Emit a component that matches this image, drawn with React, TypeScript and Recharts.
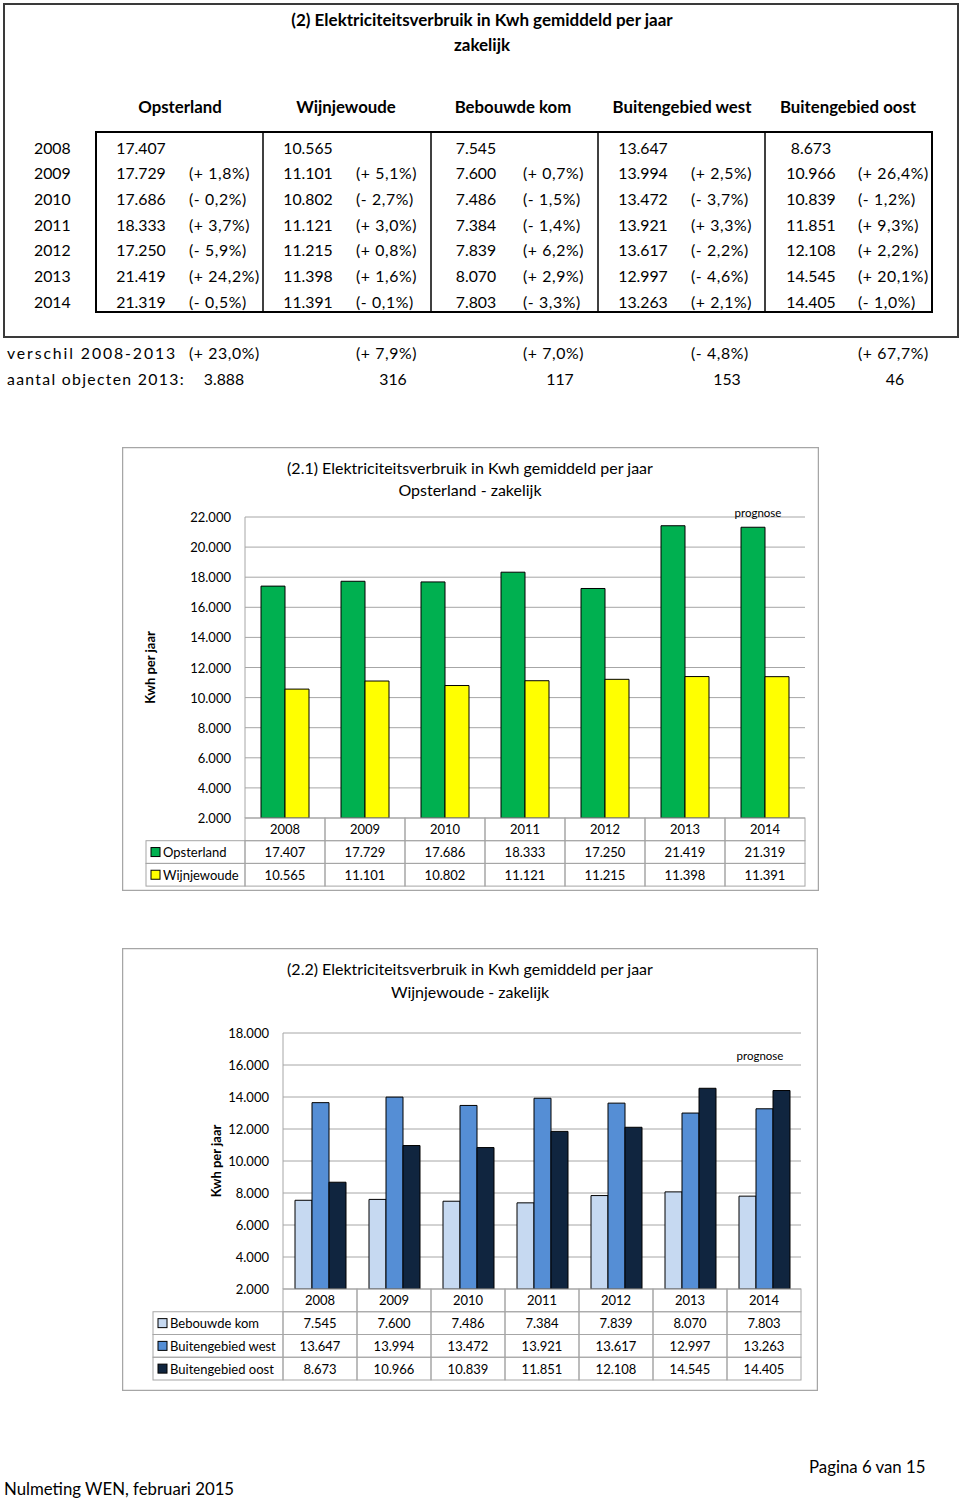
import React from 'react';
import { BarChart, Bar, XAxis, YAxis, CartesianGrid } from 'recharts';

const FONT = 'Lato, "Open Sans", sans-serif';

const years = ['2008', '2009', '2010', '2011', '2012', '2013', '2014'];
const regions = ['Opsterland', 'Wijnjewoude', 'Bebouwde kom', 'Buitengebied west', 'Buitengebied oost'];

const opsterland = [17407, 17729, 17686, 18333, 17250, 21419, 21319];
const wijnjewoude = [10565, 11101, 10802, 11121, 11215, 11398, 11391];
const bebouwdeKom = [7545, 7600, 7486, 7384, 7839, 8070, 7803];
const buitenWest = [13647, 13994, 13472, 13921, 13617, 12997, 13263];
const buitenOost = [8673, 10966, 10839, 11851, 12108, 14545, 14405];

const opsterlandChange = ['', '(+ 1,8%)', '(- 0,2%)', '(+ 3,7%)', '(- 5,9%)', '(+ 24,2%)', '(- 0,5%)'];
const wijnjewoudeChange = ['', '(+ 5,1%)', '(- 2,7%)', '(+ 3,0%)', '(+ 0,8%)', '(+ 1,6%)', '(- 0,1%)'];
const bebouwdeKomChange = ['', '(+ 0,7%)', '(- 1,5%)', '(- 1,4%)', '(+ 6,2%)', '(+ 2,9%)', '(- 3,3%)'];
const buitenWestChange = ['', '(+ 2,5%)', '(- 3,7%)', '(+ 3,3%)', '(- 2,2%)', '(- 4,6%)', '(+ 2,1%)'];
const buitenOostChange = ['', '(+ 26,4%)', '(- 1,2%)', '(+ 9,3%)', '(+ 2,2%)', '(+ 20,1%)', '(- 1,0%)'];

const verschil = ['(+ 23,0%)', '(+ 7,9%)', '(+ 7,0%)', '(- 4,8%)', '(+ 67,7%)'];
const aantalObjecten = ['3.888', '316', '117', '153', '46'];

const ticks1 = [2000, 4000, 6000, 8000, 10000, 12000, 14000, 16000, 18000, 20000, 22000];
const ticks2 = [2000, 4000, 6000, 8000, 10000, 12000, 14000, 16000, 18000];

const fmt = (v: number) => {
  const t = Math.floor(v / 1000);
  const r = v % 1000;
  return t > 0 ? `${t}.${String(r).padStart(3, '0')}` : String(r);
};

const allValues = [opsterland, wijnjewoude, bebouwdeKom, buitenWest, buitenOost];
const allChanges = [opsterlandChange, wijnjewoudeChange, bebouwdeKomChange, buitenWestChange, buitenOostChange];

function TopTable() {
  const headerX = [180, 346, 513, 682, 848];
  const valueX = [141, 308, 476, 643, 811];
  const pctX = [189, 356, 523, 691, 858];
  const rowY = [147, 172.5, 198, 224, 249.5, 275, 301];
  const vLines = [263, 431, 598, 765];
  const aantalX = [224, 393, 560, 727, 895];
  return (
    <svg width={960} height={400} style={{ position: 'absolute', left: 0, top: 0 }} fontFamily={FONT}>
      <rect x={4} y={4} width={954} height={333} fill="none" stroke="#3a3a3a" strokeWidth={2} />
      <text x={482} y={19} textAnchor="middle" dominantBaseline="central" fontSize={17} fontWeight="bold" fill="#000">
        (2) Elektriciteitsverbruik in Kwh gemiddeld per jaar
      </text>
      <text x={482} y={44} textAnchor="middle" dominantBaseline="central" fontSize={17} fontWeight="bold" fill="#000">
        zakelijk
      </text>
      {regions.map((r, i) => (
        <text key={r} x={headerX[i]} y={106} textAnchor="middle" dominantBaseline="central" fontSize={16.8} fontWeight="bold" fill="#000">
          {r}
        </text>
      ))}
      <rect x={96} y={132} width={836} height={180} fill="none" stroke="#000" strokeWidth={2} />
      {vLines.map((x) => (
        <line key={x} x1={x} x2={x} y1={132} y2={312} stroke="#000" strokeWidth={1.5} />
      ))}
      {years.map((y, ri) => (
        <g key={y}>
          <text x={34} y={rowY[ri]} dominantBaseline="central" fontSize={15.8} fill="#000">
            {y}
          </text>
          {allValues.map((vals, ci) => (
            <g key={ci}>
              <text x={valueX[ci]} y={rowY[ri]} textAnchor="middle" dominantBaseline="central" fontSize={15.8} fill="#000">
                {fmt(vals[ri])}
              </text>
              {allChanges[ci][ri] ? (
                <text x={pctX[ci]} y={rowY[ri]} dominantBaseline="central" fontSize={15.8} fill="#000" letterSpacing={0.6}>
                  {allChanges[ci][ri]}
                </text>
              ) : null}
            </g>
          ))}
        </g>
      ))}
      <text x={7} y={352} dominantBaseline="central" fontSize={15.8} fill="#000" letterSpacing={1.9}>
        verschil 2008-2013
      </text>
      {verschil.map((v, i) => (
        <text key={i} x={pctX[i]} y={352} dominantBaseline="central" fontSize={15.8} fill="#000" letterSpacing={0.6}>
          {v}
        </text>
      ))}
      <text x={7} y={378} dominantBaseline="central" fontSize={15.8} fill="#000" letterSpacing={1.3}>
        aantal objecten 2013:
      </text>
      {aantalObjecten.map((v, i) => (
        <text key={i} x={aantalX[i]} y={378} textAnchor="middle" dominantBaseline="central" fontSize={15.8} fill="#000">
          {v}
        </text>
      ))}
    </svg>
  );
}

type Series = { name: string; values: number[]; fill: string };

type ChartProps = {
  box: { x: number; y: number; w: number; h: number };
  plot: { l: number; t: number; r: number; b: number };
  rowH: number;
  legendLeft: number;
  series: Series[];
  domain: [number, number];
  ticks: number[];
  barSize: number;
  titles: string[];
  titleYs: number[];
  titleX: number;
  yTitleX: number;
  prognose: { x: number; y: number };
};

const Y_AXIS_W = 60;

function TableChart(props: ChartProps) {
  const { box, plot, rowH, legendLeft, series, domain, ticks, barSize, titles, titleYs, titleX, yTitleX, prognose } = props;
  const data = years.map((y, i) => {
    const o: Record<string, number | string> = { year: y };
    series.forEach((s, j) => {
      o['s' + j] = s.values[i];
    });
    return o;
  });
  const cw = (plot.r - plot.l) / years.length;
  const tableTop = plot.b - box.y;
  const plotLeftLocal = plot.l - box.x;
  const legendLeftLocal = legendLeft - box.x;
  const grid = '#a6a6a6';

  const renderXTick = (p: any) => {
    const x = p.x;
    const idx = p.index ?? p.payload?.index ?? 0;
    const items: React.ReactNode[] = [];
    for (let r = 0; r <= series.length; r++) {
      const ry = tableTop + r * rowH;
      items.push(
        <rect key={'c' + r} x={x - cw / 2} y={ry} width={cw} height={rowH} fill="none" stroke={grid} strokeWidth={1} />
      );
      const label = r === 0 ? years[idx] : fmt(series[r - 1].values[idx]);
      items.push(
        <text key={'t' + r} x={x} y={ry + rowH / 2} textAnchor="middle" dominantBaseline="central" fontSize={13} fill="#000" fontFamily={FONT}>
          {label}
        </text>
      );
      if (idx === 0 && r > 0) {
        const lx = legendLeftLocal;
        const lw = x - cw / 2 - lx;
        items.push(<rect key={'l' + r} x={lx} y={ry} width={lw} height={rowH} fill="none" stroke={grid} strokeWidth={1} />);
        items.push(
          <rect key={'k' + r} x={lx + 5} y={ry + rowH / 2 - 4.5} width={9} height={9} fill={series[r - 1].fill} stroke="#000" strokeWidth={1} />
        );
        items.push(
          <text key={'n' + r} x={lx + 17} y={ry + rowH / 2} dominantBaseline="central" fontSize={13} fill="#000" fontFamily={FONT}>
            {series[r - 1].name}
          </text>
        );
      }
    }
    return <g>{items}</g>;
  };

  const renderYTick = (p: any) => (
    <text x={plotLeftLocal - 14} y={p.y} textAnchor="end" dominantBaseline="central" fontSize={13} fill="#000" fontFamily={FONT}>
      {fmt(p.payload.value)}
    </text>
  );

  return (
    <div style={{ position: 'absolute', left: box.x, top: box.y, width: box.w, height: box.h }}>
      <BarChart
        width={box.w}
        height={box.h}
        data={data}
        margin={{ top: plot.t - box.y, left: plotLeftLocal - Y_AXIS_W, right: box.x + box.w - plot.r, bottom: 0 }}
        barGap={0}
      >
        <CartesianGrid vertical={false} stroke={grid} strokeWidth={1} />
        <XAxis
          dataKey="year"
          axisLine={false}
          tickLine={false}
          tick={renderXTick}
          height={box.y + box.h - plot.b}
          interval={0}
        />
        <YAxis
          width={Y_AXIS_W}
          domain={domain}
          ticks={ticks}
          type="number"
          interval={0}
          axisLine={{ stroke: grid }}
          tickLine={false}
          tick={renderYTick}
          allowDataOverflow
        />
        {series.map((s, j) => (
          <Bar key={s.name} dataKey={'s' + j} fill={s.fill} stroke="#000" strokeWidth={1} barSize={barSize} isAnimationActive={false} />
        ))}
      </BarChart>
      <svg width={box.w} height={box.h} style={{ position: 'absolute', left: 0, top: 0, pointerEvents: 'none' }} fontFamily={FONT}>
        <rect x={0.5} y={0.5} width={box.w - 1} height={box.h - 1} fill="none" stroke="#a6a6a6" strokeWidth={1.5} />
        {titles.map((t, i) => (
          <text key={i} x={titleX - box.x} y={titleYs[i] - box.y} textAnchor="middle" dominantBaseline="central" fontSize={16} fill="#000">
            {t}
          </text>
        ))}
        <text
          x={yTitleX - box.x}
          y={(plot.t + plot.b) / 2 - box.y}
          textAnchor="middle"
          dominantBaseline="central"
          fontSize={13}
          fontWeight="bold"
          fill="#000"
          transform={`rotate(-90 ${yTitleX - box.x} ${(plot.t + plot.b) / 2 - box.y})`}
        >
          Kwh per jaar
        </text>
        <text x={prognose.x - box.x} y={prognose.y - box.y} textAnchor="middle" dominantBaseline="central" fontSize={11.5} fill="#000">
          prognose
        </text>
      </svg>
    </div>
  );
}

const series1: Series[] = [
  { name: 'Opsterland', values: opsterland, fill: '#00B050' },
  { name: 'Wijnjewoude', values: wijnjewoude, fill: '#FFFF00' },
];

const series2: Series[] = [
  { name: 'Bebouwde kom', values: bebouwdeKom, fill: '#C6D9F1' },
  { name: 'Buitengebied west', values: buitenWest, fill: '#558ED5' },
  { name: 'Buitengebied oost', values: buitenOost, fill: '#10253F' },
];

export default function App() {
  return (
    <div style={{ position: 'absolute', left: 0, top: 0, width: 960, height: 1499, background: '#fff', fontFamily: FONT, overflow: 'hidden' }}>
      <TopTable />
      <TableChart
        box={{ x: 122, y: 447, w: 697, h: 444 }}
        plot={{ l: 245, t: 517, r: 805, b: 818 }}
        rowH={22.7}
        legendLeft={146}
        series={series1}
        domain={[2000, 22000]}
        ticks={ticks1}
        barSize={24}
        titles={['(2.1) Elektriciteitsverbruik in Kwh gemiddeld per jaar', 'Opsterland - zakelijk']}
        titleYs={[467, 489]}
        titleX={470}
        yTitleX={150}
        prognose={{ x: 758, y: 512 }}
      />
      <TableChart
        box={{ x: 122, y: 948, w: 696, h: 443 }}
        plot={{ l: 283, t: 1033, r: 801, b: 1289 }}
        rowH={22.75}
        legendLeft={153}
        series={series2}
        domain={[2000, 18000]}
        ticks={ticks2}
        barSize={17}
        titles={['(2.2) Elektriciteitsverbruik in Kwh gemiddeld per jaar', 'Wijnjewoude - zakelijk']}
        titleYs={[968, 991]}
        titleX={470}
        yTitleX={216}
        prognose={{ x: 760, y: 1055 }}
      />
      <div style={{ position: 'absolute', left: 809, top: 1456, fontSize: 16.8, lineHeight: '22px', whiteSpace: 'nowrap' }}>Pagina 6 van 15</div>
      <div style={{ position: 'absolute', left: 4, top: 1478, fontSize: 16.8, lineHeight: '22px', whiteSpace: 'nowrap' }}>Nulmeting WEN, februari 2015</div>
    </div>
  );
}
